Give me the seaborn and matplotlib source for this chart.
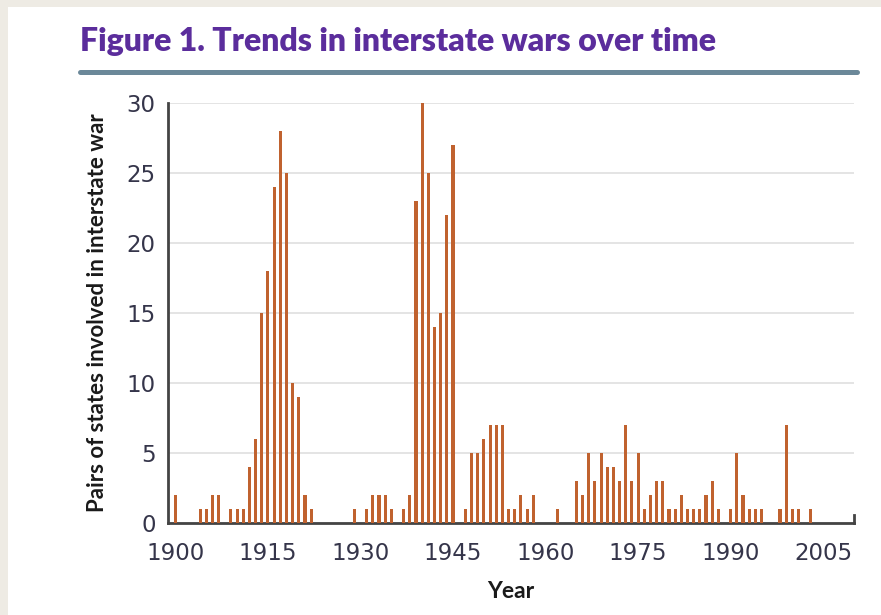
import numpy as np
import pandas as pd
import matplotlib
matplotlib.use("Agg")
import matplotlib.pyplot as plt
from matplotlib.patches import Rectangle
from matplotlib.lines import Line2D
import seaborn as sns

# Pairs of states involved in interstate war, by year
years = [1900, 1904, 1905, 1906, 1907, 1909, 1910, 1911, 1912, 1913, 1914,
         1915, 1916, 1917, 1918, 1919, 1920, 1921, 1922,
         1929, 1931, 1932, 1933, 1934, 1935, 1937, 1938, 1939, 1940, 1941,
         1942, 1943, 1944, 1945, 1947, 1948, 1949, 1950, 1951, 1952, 1953,
         1954, 1955, 1956, 1957, 1958, 1962, 1965, 1966, 1967, 1968, 1969,
         1970, 1971, 1972, 1973, 1974, 1975, 1976, 1977, 1978, 1979, 1980,
         1981, 1982, 1983, 1984, 1985, 1986, 1987, 1988, 1990, 1991, 1992,
         1993, 1994, 1995, 1998, 1999, 2000, 2001, 2003]
pairs = [2, 1, 1, 2, 2, 1, 1, 1, 4, 6, 15,
         18, 24, 28, 25, 10, 9, 2, 1,
         1, 1, 2, 2, 2, 1, 1, 2, 23, 30, 25,
         14, 15, 22, 27, 1, 5, 5, 6, 7, 7, 7,
         1, 1, 2, 1, 2, 1, 3, 2, 5, 3, 5,
         4, 4, 3, 7, 3, 5, 1, 2, 3, 3, 1,
         1, 2, 1, 1, 1, 2, 3, 1, 1, 5, 2,
         1, 1, 1, 1, 7, 1, 1, 1]
label_years = [1900, 1915, 1930, 1945, 1960, 1975, 1990, 2005]
decade_marks = [1910, 1920, 1930, 1940, 1950, 1960, 1970, 1980, 1990, 2000, 2010]
y_ticks = [0, 5, 10, 15, 20, 25, 30]

df = pd.DataFrame({"year": years, "pairs": pairs})

sns.set_theme(style="white")
plt.rcParams["font.family"] = ["Lato", "DejaVu Sans"]

fig, ax = plt.subplots(figsize=(8.81, 6.15), dpi=100)
fig.patch.set_facecolor("#eeebe4")
fig.patches.append(Rectangle((0.0091, 0), 1, 0.9886, transform=fig.transFigure,
                             facecolor="white", edgecolor="none", zorder=-1))
fig.subplots_adjust(left=0.1907, right=0.9694, bottom=0.1496, top=0.8325)

sns.barplot(data=df, x="year", y="pairs", native_scale=True, width=0.5,
            color="#c0622f", saturation=1, edgecolor="none", ax=ax, zorder=3)

ax.set_xlim(1898.8, 2010)
ax.set_ylim(0, 30)
ax.set_yticks(y_ticks)
ax.set_xticks(label_years)
ax.set_xticks(decade_marks, minor=True)
ax.yaxis.grid(True, color="#e2e2e2", linewidth=1.3, zorder=0)
ax.set_axisbelow(True)

ax.tick_params(axis="x", which="major", length=0, pad=13.5, labelsize=16.5,
               labelcolor="#35354a")
ax.tick_params(axis="x", which="minor", direction="in", length=4, width=2,
               color="#555555")
ax.tick_params(axis="y", direction="in", length=7, width=1.5, color="#444444",
               pad=9, labelsize=16.5, labelcolor="#35354a")
for lab in ax.get_xticklabels() + ax.get_yticklabels():
    lab.set_family("DejaVu Sans")

ax.spines["top"].set_visible(False)
ax.spines["right"].set_bounds(0, 0.6)
for side in ["left", "bottom", "right"]:
    ax.spines[side].set_color("#444444")
    ax.spines[side].set_linewidth(2)

ax.set_xlabel("Year", fontsize=16.5, fontweight="bold", color="#1a1a1a", va="center")
ax.set_ylabel("Pairs of states involved in interstate war", fontsize=16,
              fontweight="bold", color="#1a1a1a", va="center")
ax.xaxis.set_label_coords(0.5, -0.162)
ax.yaxis.set_label_coords(-0.1035, 0.5)

fig.text(0.0908, 0.933, "Figure 1. Trends in interstate wars over time",
         fontsize=23, fontweight="heavy", color="#5b2d9c", va="center", ha="left")
fig.lines.append(Line2D([0.0908, 0.9728], [0.8829, 0.8829], transform=fig.transFigure,
                        color="#6b8899", linewidth=3.6))

plt.savefig("out.png", dpi=100)
plt.close()
